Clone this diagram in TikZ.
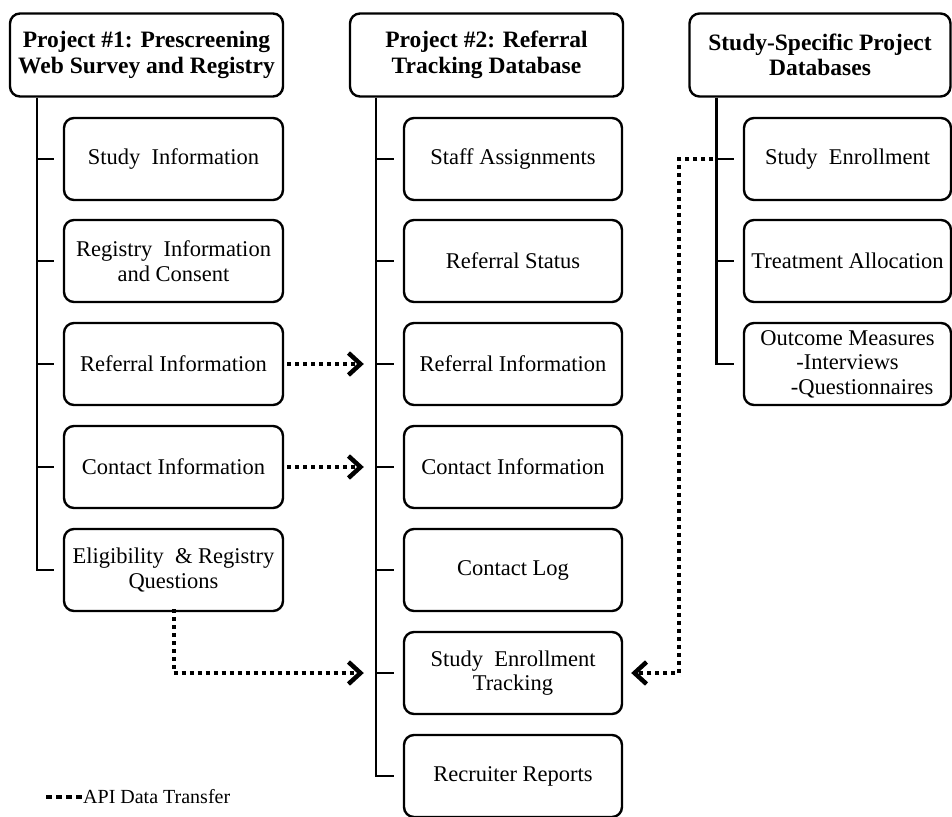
\documentclass[tikz,border=0pt]{standalone}
\usepackage{fontspec}
\setmainfont{Liberation Serif}
\usetikzlibrary{arrows.meta,calc}
\begin{document}
\begin{tikzpicture}[x=1pt,y=-1pt,
  box/.style={draw,line width=2.4pt,rounded corners=10pt,inner sep=0pt,align=center,
    font=\fontsize{22.5}{24.5}\selectfont},
  head/.style={box,minimum height=83pt,font=\fontsize{23.5}{25.5}\selectfont\bfseries},
  item/.style={box,minimum height=82pt},
  tree/.style={line width=2.4pt},
  dots/.style={line width=4pt,dash pattern=on 4pt off 4pt},
  api/.style={dots,-{Straight Barb[length=12pt,width=22pt,line width=4.5pt]}}]
\useasboundingbox (0,0) rectangle (952,816);

% column 1: prescreening survey
\node[head,minimum width=273pt] (h1) at (146.5,55) {Project \#1: Prescreening\\Web Survey and Registry};
\foreach \n/\y/\t in {a1/159/{Study\ \ Information},
                      a2/261/{Registry\ \ Information\\and Consent},
                      a3/364/{Referral Information},
                      a4/467/{Contact Information},
                      a5/570/{Eligibility\ \ \& Registry\\Questions}}
  \node[item,minimum width=219pt] (\n) at (173.5,\y) {\t};

% column 2: referral tracking
\node[head,minimum width=273pt] (h2) at (486.5,55) {Project \#2: Referral\\Tracking Database};
\foreach \n/\y/\t in {b1/159/{Staff Assignments},
                      b2/261/{Referral Status},
                      b3/364/{Referral Information},
                      b4/467/{Contact Information},
                      b5/570/{Contact Log},
                      b6/673/{Study\ \ Enrollment\\Tracking},
                      b7/776/{Recruiter Reports}}
  \node[item,minimum width=218pt] (\n) at (513,\y) {\t};

% column 3: study-specific databases
\node[head,minimum width=261pt] (h3) at (820,55) {Study-Specific Project\\Databases};
\foreach \n/\y/\t in {c1/159/{Study\ \ Enrollment},
                      c2/261/{Treatment Allocation},
                      c3/364/{Outcome Measures\\-Interviews\\\hspace{1.3em}-Questionnaires}}
  \node[item,minimum width=207pt] (\n) at (847.5,\y) {\t};

% tree spines and ticks
\draw[tree] ([xshift=28pt]h1.south west) coordinate (s1) |- ([xshift=-9pt]a5.west);
\foreach \n in {a1,a2,a3,a4}
  \draw[tree] (s1 |- \n.west) -- ([xshift=-9pt]\n.west);
\draw[tree] ([xshift=27pt]h2.south west) coordinate (s2) |- ([xshift=-9pt]b7.west);
\foreach \n in {b1,b2,b3,b4,b5,b6}
  \draw[tree] (s2 |- \n.west) -- ([xshift=-9pt]\n.west);
\draw[tree] ([xshift=28pt]h3.south west) coordinate (s3) |- ([xshift=-9pt]c3.west);
\foreach \n in {c1,c2}
  \draw[tree] (s3 |- \n.west) -- ([xshift=-9pt]\n.west);

% API data transfers
\draw[api] ([xshift=3pt]a3.east) -- ([xshift=-12pt]s2 |- b3.west);
\draw[api] ([xshift=3pt]a4.east) -- ([xshift=-12pt]s2 |- b4.west);
\draw[api] ([yshift=3pt]a5.south) |- ([xshift=-12pt]s2 |- b6.west);
\draw[api] ([xshift=-3pt]s3 |- c1.west) -| ([xshift=56pt]b6.east) -- ([xshift=8pt]b6.east);

% legend
\coordinate (lg) at (46,797);
\draw[dots,line width=3.5pt,dash pattern=on 6pt off 4pt] (lg) -- ++(36,0) coordinate (lge);
\node[anchor=west,inner sep=1pt,font=\fontsize{20}{22}\selectfont] (lt) at (lge) {API Data Transfer};
\end{tikzpicture}
\end{document}
